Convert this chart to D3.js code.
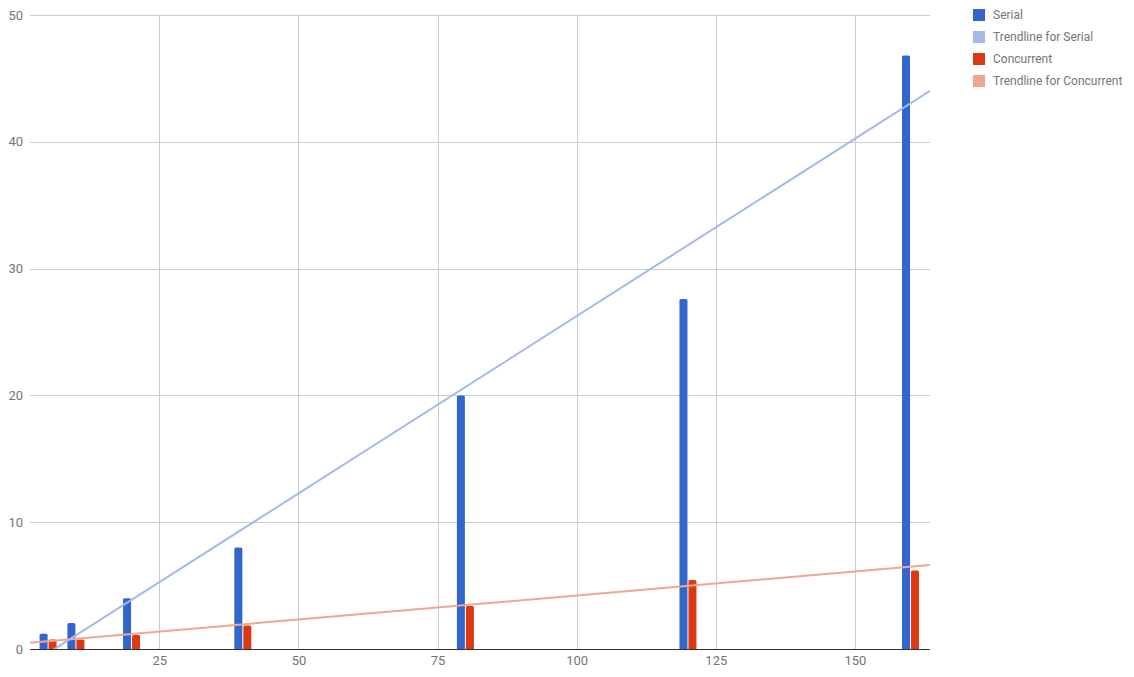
<!DOCTYPE html>
<html>
<head>
<meta charset="utf-8">
<script src="https://cdn.jsdelivr.net/npm/d3@7"></script>
<style>
    body { margin: 0; background: #fff; font-family: Roboto, Arial, sans-serif; }
    #chart-area { width: 1134px; height: 677px; }
</style>
</head>
<body>
<div id="chart-area"></div>
<script>

// values
const threads = [5, 10, 20, 40, 80, 120, 160];
const serial = [1.2, 2.05, 4.0, 8.0, 20.0, 27.6, 46.8];
const concurrent = [0.75, 0.75, 1.1, 1.85, 3.4, 5.45, 6.2];

const xTicks = [25, 50, 75, 100, 125, 150];
const yTicks = [0, 10, 20, 30, 40, 50];

const seriesNames = ["Serial", "Trendline for Serial", "Concurrent", "Trendline for Concurrent"];

let colors = {
    serial: "#3366cc",
    concurrent: "#dc3912",
    serialTrend: "#a3bae8",
    concurrentTrend: "#efa694"
};

let margin = {left: 30, right: 204, top: 15, bottom: 28};
let width = 1134 - margin.left - margin.right;
let height = 677 - margin.top - margin.bottom;

let svg = d3.select("#chart-area").append("svg")
    .attr("width", 1134)
    .attr("height", 677);

let g = svg.append("g")
    .attr("transform", `translate(${margin.left}, ${margin.top})`);

let x = d3.scaleLinear()
    .domain([1.75, 163.5])
    .range([0, width]);

let y = d3.scaleLinear()
    .domain([0, 50])
    .range([height, 0]);

// grid lines
g.selectAll(".hgrid")
    .data(yTicks.filter(d => d > 0))
    .enter().append("line")
    .attr("class", "hgrid")
    .attr("x1", 0).attr("x2", width)
    .attr("y1", d => Math.round(y(d)) + 0.5).attr("y2", d => Math.round(y(d)) + 0.5)
    .attr("stroke", "#cccccc");

g.selectAll(".vgrid")
    .data(xTicks)
    .enter().append("line")
    .attr("class", "vgrid")
    .attr("y1", 0).attr("y2", height)
    .attr("x1", d => Math.round(x(d)) + 0.5).attr("x2", d => Math.round(x(d)) + 0.5)
    .attr("stroke", "#cccccc");

// axis labels
let yAxis = d3.axisLeft(y).tickValues(yTicks).tickSize(0).tickPadding(7);
let xAxis = d3.axisBottom(x).tickValues(xTicks).tickSize(0).tickPadding(7);

let yAxisG = g.append("g").call(yAxis);
let xAxisG = g.append("g").attr("transform", `translate(0, ${height})`).call(xAxis);

[yAxisG, xAxisG].forEach(a => {
    a.select(".domain").remove();
    a.selectAll("text")
        .attr("fill", "#757575")
        .style("font-family", "Roboto, Arial, sans-serif")
        .style("font-size", "13px");
});

// bars
let barW = 8;
let bars = threads.map((t, i) => ({t: t, serial: serial[i], concurrent: concurrent[i]}));

function barPath(x0, v) {
    let top = y(v), bottom = y(0), r = 1.5;
    return `M${x0},${bottom} L${x0},${top + r} Q${x0},${top} ${x0 + r},${top}` +
        ` L${x0 + barW - r},${top} Q${x0 + barW},${top} ${x0 + barW},${top + r} L${x0 + barW},${bottom} Z`;
}

g.selectAll(".bar-serial")
    .data(bars)
    .enter().append("path")
    .attr("class", "bar-serial")
    .attr("d", d => barPath(x(d.t) - barW - 0.5, d.serial))
    .attr("fill", colors.serial);

g.selectAll(".bar-concurrent")
    .data(bars)
    .enter().append("path")
    .attr("class", "bar-concurrent")
    .attr("d", d => barPath(x(d.t) + 0.5, d.concurrent))
    .attr("fill", colors.concurrent);

// baseline
g.append("line")
    .attr("x1", 0).attr("x2", width)
    .attr("y1", Math.round(y(0)) + 0.5).attr("y2", Math.round(y(0)) + 0.5)
    .attr("stroke", "#333333");

// linear trendlines (least squares on the bars)
function linearFit(xs, ys) {
    let mx = d3.mean(xs), my = d3.mean(ys);
    let sxy = d3.sum(xs, (v, i) => (v - mx) * (ys[i] - my));
    let sxx = d3.sum(xs, v => (v - mx) * (v - mx));
    let slope = sxy / sxx;
    return {slope: slope, intercept: my - slope * mx};
}

g.append("clipPath").attr("id", "plot-clip")
    .append("rect").attr("width", width).attr("height", height);

let trends = [
    {fit: linearFit(threads, serial), color: colors.serialTrend},
    {fit: linearFit(threads, concurrent), color: colors.concurrentTrend}
];

let domain = x.domain();
g.selectAll(".trend")
    .data(trends)
    .enter().append("line")
    .attr("class", "trend")
    .attr("clip-path", "url(#plot-clip)")
    .attr("x1", x(domain[0])).attr("x2", x(domain[1]))
    .attr("y1", d => y(d.fit.intercept + d.fit.slope * domain[0]))
    .attr("y2", d => y(d.fit.intercept + d.fit.slope * domain[1]))
    .attr("stroke", d => d.color)
    .attr("stroke-width", 2);

// legend
let legendColors = [colors.serial, colors.serialTrend, colors.concurrent, colors.concurrentTrend];
let legend = svg.append("g")
    .attr("transform", "translate(973, 9)");

let items = legend.selectAll(".legend-item")
    .data(seriesNames)
    .enter().append("g")
    .attr("class", "legend-item")
    .attr("transform", (d, i) => `translate(0, ${i * 22})`);

items.append("rect")
    .attr("width", 12).attr("height", 12)
    .attr("fill", (d, i) => legendColors[i]);

items.append("text")
    .attr("x", 20).attr("y", 6)
    .attr("dy", "0.35em")
    .attr("fill", "#757575")
    .style("font-family", "Roboto, Arial, sans-serif")
    .style("font-size", "12px")
    .text(d => d);

</script>
</body>
</html>
